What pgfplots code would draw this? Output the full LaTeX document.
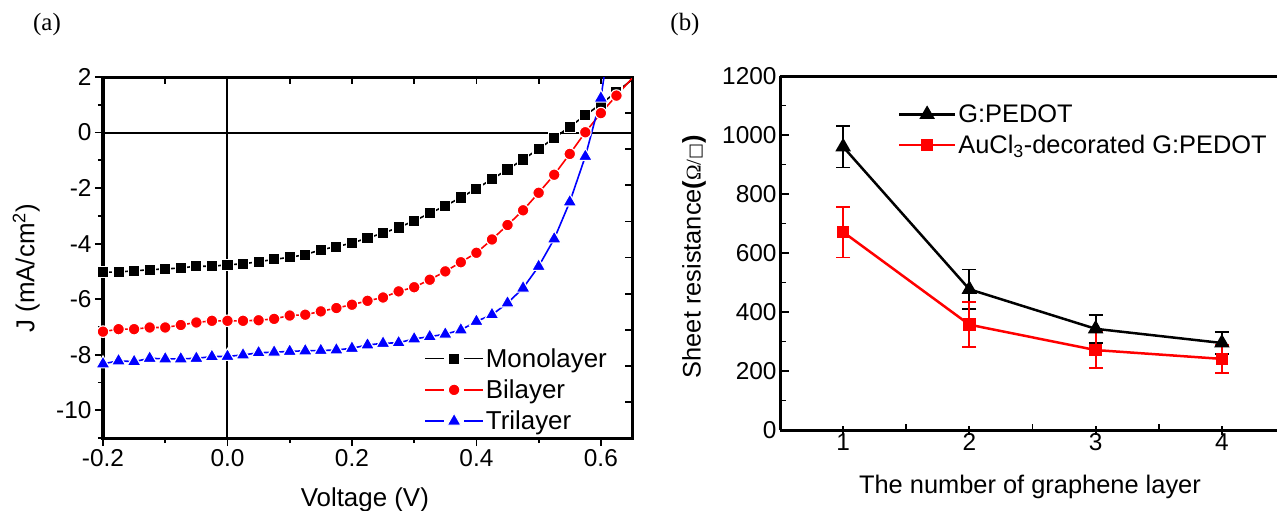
\documentclass[border=0pt]{standalone}
\usepackage{pgfplots}
\pgfplotsset{compat=1.18}
\usepackage{fontspec}
\setmainfont{Liberation Sans}
\newfontfamily\seriffont{Liberation Serif}
\newfontfamily\dejavu{DejaVu Sans}

\pgfplotstableread{
x y
-0.200 -5.03
-0.175 -5.02
-0.150 -4.98
-0.125 -4.94
-0.100 -4.91
-0.075 -4.88
-0.050 -4.81
-0.025 -4.82
0.000 -4.76
0.025 -4.73
0.050 -4.65
0.075 -4.57
0.100 -4.49
0.125 -4.40
0.150 -4.22
0.175 -4.11
0.200 -3.98
0.225 -3.80
0.250 -3.62
0.275 -3.42
0.300 -3.18
0.325 -2.91
0.350 -2.64
0.375 -2.34
0.400 -2.02
0.425 -1.68
0.450 -1.33
0.475 -0.97
0.500 -0.59
0.525 -0.20
0.550 0.21
0.575 0.62
0.600 1.03
0.625 1.46
}\mono

\pgfplotstableread{
x y
-0.200 -7.17
-0.175 -7.08
-0.150 -7.08
-0.125 -7.02
-0.100 -7.02
-0.075 -6.93
-0.050 -6.84
-0.025 -6.78
0.000 -6.78
0.025 -6.78
0.050 -6.76
0.075 -6.71
0.100 -6.59
0.125 -6.56
0.150 -6.44
0.175 -6.32
0.200 -6.20
0.225 -6.06
0.250 -5.94
0.275 -5.72
0.300 -5.57
0.325 -5.30
0.350 -5.00
0.375 -4.67
0.400 -4.33
0.425 -3.85
0.450 -3.33
0.475 -2.80
0.500 -2.17
0.525 -1.52
0.550 -0.77
0.575 0.01
0.600 0.70
0.625 1.33
}\bi

\pgfplotstableread{
x y
-0.200 -8.33
-0.175 -8.22
-0.150 -8.25
-0.125 -8.13
-0.100 -8.15
-0.075 -8.15
-0.050 -8.13
-0.025 -8.07
0.000 -8.06
0.025 -8.01
0.050 -7.93
0.075 -7.91
0.100 -7.88
0.125 -7.86
0.150 -7.85
0.175 -7.83
0.200 -7.77
0.225 -7.65
0.250 -7.59
0.275 -7.57
0.300 -7.43
0.325 -7.35
0.350 -7.26
0.375 -7.11
0.400 -6.80
0.425 -6.56
0.450 -6.14
0.475 -5.60
0.500 -4.82
0.525 -3.83
0.550 -2.50
0.575 -0.86
0.600 1.24
}\tri

\pgfplotstableread{
x y e
1 960 70
2 477 67
3 343 48
4 295 36
}\gpedot

\pgfplotstableread{
x y e
1 671 86
2 357 76
3 271 62
4 241 48
}\aucl

\begin{document}
\begin{tikzpicture}
\useasboundingbox (0bp,0bp) rectangle (1277bp,-511bp);
\node[font=\seriffont\fontsize{25}{30}\selectfont] at (47bp,-25bp) {(a)};
\node[font=\seriffont\fontsize{25}{30}\selectfont] at (685bp,-25bp) {(b)};

% ---------- panel (a) ----------
\begin{axis}[
  at={(103bp,-438bp)}, anchor=south west,
  scale only axis, width=529bp, height=361bp,
  xmin=-0.2, xmax=0.65, ymin=-11, ymax=2,
  tick align=outside, xtick pos=left, ytick pos=left,
  xtick={-0.2,0,0.2,0.4,0.6}, minor xtick={-0.1,0.1,0.3,0.5},
  ytick={-10,-8,-6,-4,-2,0,2}, minor ytick={-11,-9,-7,-5,-3,-1,1},
  major tick length=8bp, minor tick length=5bp,
  tick style={line width=1.8bp, black},
  axis line style={line width=3bp},
  xticklabel style={/pgf/number format/.cd, fixed, fixed zerofill, precision=1},
  /pgf/number format/assume math mode=true,
  ticklabel style={font=\fontsize{24.5}{29}\selectfont},
  label style={font=\fontsize{26}{31}\selectfont},
  xlabel={Voltage (V)},
  ylabel={J (mA/cm\textsuperscript{2})},
  xlabel style={at={(axis description cs:0.495,-0.172)}, anchor=center},
  ylabel style={at={(axis description cs:-0.145,0.47)}, anchor=center},
  legend style={draw=none, fill=none, at={(0.607,0.254)}, anchor=north west,
    font=\fontsize{26}{31}\selectfont, row sep=7bp, inner sep=0pt,
    /tikz/every even column/.style={column sep=9bp}},
  legend cell align=left,
  legend image code/.code={
    \draw[#1,mark=none] (0bp,0bp) -- (19bp,0bp);
    \draw[#1,mark=none] (39bp,0bp) -- (58bp,0bp);
    \path[#1] plot coordinates {(29bp,0bp)};
  },
]
\addplot[black, line width=2bp, forget plot] coordinates {(-0.2,0) (0.65,0)};
\addplot[black, line width=2bp, forget plot] coordinates {(0,-11) (0,2)};
\addplot[black, line width=1.6bp, forget plot] coordinates {(0.625,1.46) (0.65,1.9)};
\addplot[red, line width=1.6bp, forget plot] coordinates {(0.625,1.33) (0.65,1.95)};
\addplot[blue, line width=1.6bp, forget plot] coordinates {(0.6,1.24) (0.603,1.7) (0.607,2.3)};
\addplot[black, line width=1.6bp, mark=square*, mark size=5.6bp,
  mark options={solid, draw=white, fill=black, line width=1.1bp}] table {\mono};
\addplot[red, line width=1.6bp, mark=*, mark size=5.8bp,
  mark options={solid, draw=white, fill=red, line width=1.1bp}] table {\bi};
\addplot[blue, line width=1.6bp, mark=triangle*, mark size=8bp,
  mark options={solid, draw=white, fill=blue, line width=1.1bp}] table {\tri};
\legend{Monolayer, Bilayer, Trilayer}
\end{axis}

% mirrored inward ticks on top and right of panel (a)
\begin{axis}[
  at={(103bp,-438bp)}, anchor=south west,
  scale only axis, width=529bp, height=361bp,
  xmin=-0.2, xmax=0.65, ymin=-11, ymax=2,
  axis line style={draw=none},
  tick align=inside, xtick pos=right, ytick pos=right,
  xtick={-0.2,-0.1,0,0.1,0.2,0.3,0.4,0.5,0.6},
  ytick={0.7,-0.6,-1.9,-3.2,-4.5,-5.8,-7.1,-8.4,-9.7},
  xticklabels={}, yticklabels={},
  major tick length=7bp,
  tick style={line width=1.8bp, black},
]
\end{axis}

% ---------- panel (b) ----------
\begin{axis}[
  at={(780bp,-430bp)}, anchor=south west,
  scale only axis, width=505bp, height=354bp,
  xmin=0.5, xmax=4.5, ymin=0, ymax=1200,
  axis x line*=bottom, axis y line*=left,
  tick align=inside,
  xtick={1,2,3,4}, minor xtick={1.5,2.5,3.5},
  ytick={0,200,...,1200}, minor ytick={100,300,...,1100},
  major tick length=9bp, minor tick length=6bp,
  major x tick style={yshift=-4.5bp},
  tick style={line width=1.8bp, black},
  axis line style={line width=3bp, -},
  /pgf/number format/assume math mode=true,
  /pgf/number format/set thousands separator={},
  ticklabel style={font=\fontsize{24.5}{29}\selectfont},
  label style={font=\fontsize{25.5}{30}\selectfont},
  xlabel={The number of graphene layer},
  ylabel={Sheet resistance{\bfseries(}{\seriffont\fontsize{21}{24}\selectfont Ω/}{\dejavu\fontsize{17}{20}\selectfont □}{\bfseries)}},
  xlabel style={at={(axis description cs:0.495,-0.161)}, anchor=center},
  ylabel style={at={(axis description cs:-0.17,0.49)}, anchor=center},
  legend style={draw=none, fill=none, at={(0.233,0.925)}, anchor=north west,
    font=\fontsize{25.5}{30}\selectfont, row sep=7bp, inner sep=0pt,
    /tikz/every even column/.style={column sep=7bp}},
  legend cell align=left,
  legend image code/.code={
    \draw[#1,mark=none] (0bp,0bp) -- (56bp,0bp);
    \path[#1] plot coordinates {(28bp,0bp)};
  },
  clip=false,
]
\draw[line width=3bp] (rel axis cs:0,1) -- (rel axis cs:1,1);
\addplot[black, line width=2.5bp, mark=triangle*, mark size=6.5bp,
  error bars/.cd, y dir=both, y explicit,
  error bar style={line width=1.8bp, black},
  error mark options={rotate=90, mark size=7bp, line width=1.8bp, black}]
  table[x=x, y=y, y error=e] {\gpedot};
\addplot[red, line width=2.5bp, mark=square*, mark size=5bp,
  error bars/.cd, y dir=both, y explicit,
  error bar style={line width=1.8bp, red},
  error mark options={rotate=90, mark size=7bp, line width=1.8bp, red}]
  table[x=x, y=y, y error=e] {\aucl};
\legend{G:PEDOT, AuCl\textsubscript{3}-decorated G:PEDOT}
\end{axis}
\end{tikzpicture}
\end{document}
